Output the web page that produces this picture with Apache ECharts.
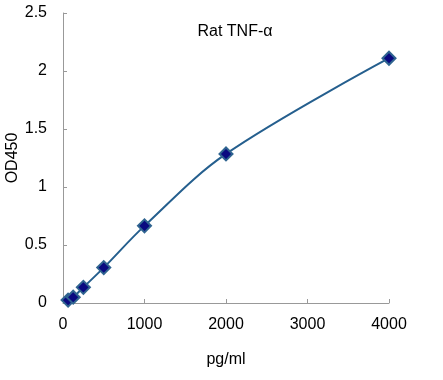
<!DOCTYPE html>
<html><head><meta charset="utf-8">
<script src="https://cdn.jsdelivr.net/npm/echarts@6/dist/echarts.min.js"></script>
<style>html,body{margin:0;padding:0;background:#fff}#c{width:443px;height:380px}</style>
</head><body><div id="c"></div>
<script>
const concentrations = [62.5, 125, 250, 500, 1000, 2000, 4000];
const od450 = [0.025, 0.05, 0.135, 0.305, 0.665, 1.285, 2.11];
const xTicks = [0, 1000, 2000, 3000, 4000];
const yTicks = [0, 0.5, 1, 1.5, 2, 2.5];
const chart = echarts.init(document.getElementById('c'));
const font = 'Liberation Sans, Arial, sans-serif';
chart.setOption({
  animation: false,
  title: { text: 'Rat TNF-α', left: 230, top: 19, textAlign: 'center',
    textStyle: { fontFamily: font, fontSize: 16, fontWeight: 'normal', color: '#000' } },
  grid: { left: 63, right: 54, top: 13, bottom: 77, containLabel: false, outerBoundsMode: 'none' },
  xAxis: { type: 'value', min: xTicks[0], max: xTicks[xTicks.length-1], interval: 1000,
    name: 'pg/ml', nameLocation: 'middle', nameGap: 49, nameMoveOverlap: false,
    nameTextStyle: { fontFamily: font, fontSize: 16, color: '#000' },
    axisLine: { lineStyle: { color: '#999' } },
    axisTick: { inside: true, length: 4, lineStyle: { color: '#999' } },
    axisLabel: { fontFamily: font, fontSize: 16, color: '#000', margin: 14,
      formatter: v => String(v) },
    splitLine: { show: false } },
  yAxis: { type: 'value', min: yTicks[0], max: yTicks[yTicks.length-1], interval: 0.5,
    name: 'OD450', nameLocation: 'middle', nameGap: 42, nameMoveOverlap: false,
    nameTextStyle: { fontFamily: font, fontSize: 16, color: '#000' },
    axisLine: { show: true, lineStyle: { color: '#999' } },
    axisTick: { show: true, inside: true, length: 4, lineStyle: { color: '#999' } },
    axisLabel: { fontFamily: font, fontSize: 16, color: '#000', margin: 16,
      formatter: v => String(v) },
    splitLine: { show: false } },
  series: [{ type: 'line', smooth: 0.35,
    data: concentrations.map((c, i) => [c, od450[i]]),
    symbol: 'diamond', symbolSize: 13,
    lineStyle: { color: '#255f8e', width: 2 },
    itemStyle: { color: '#0a0a80', borderColor: '#2f6490', borderWidth: 2 } }]
});
</script></body></html>
